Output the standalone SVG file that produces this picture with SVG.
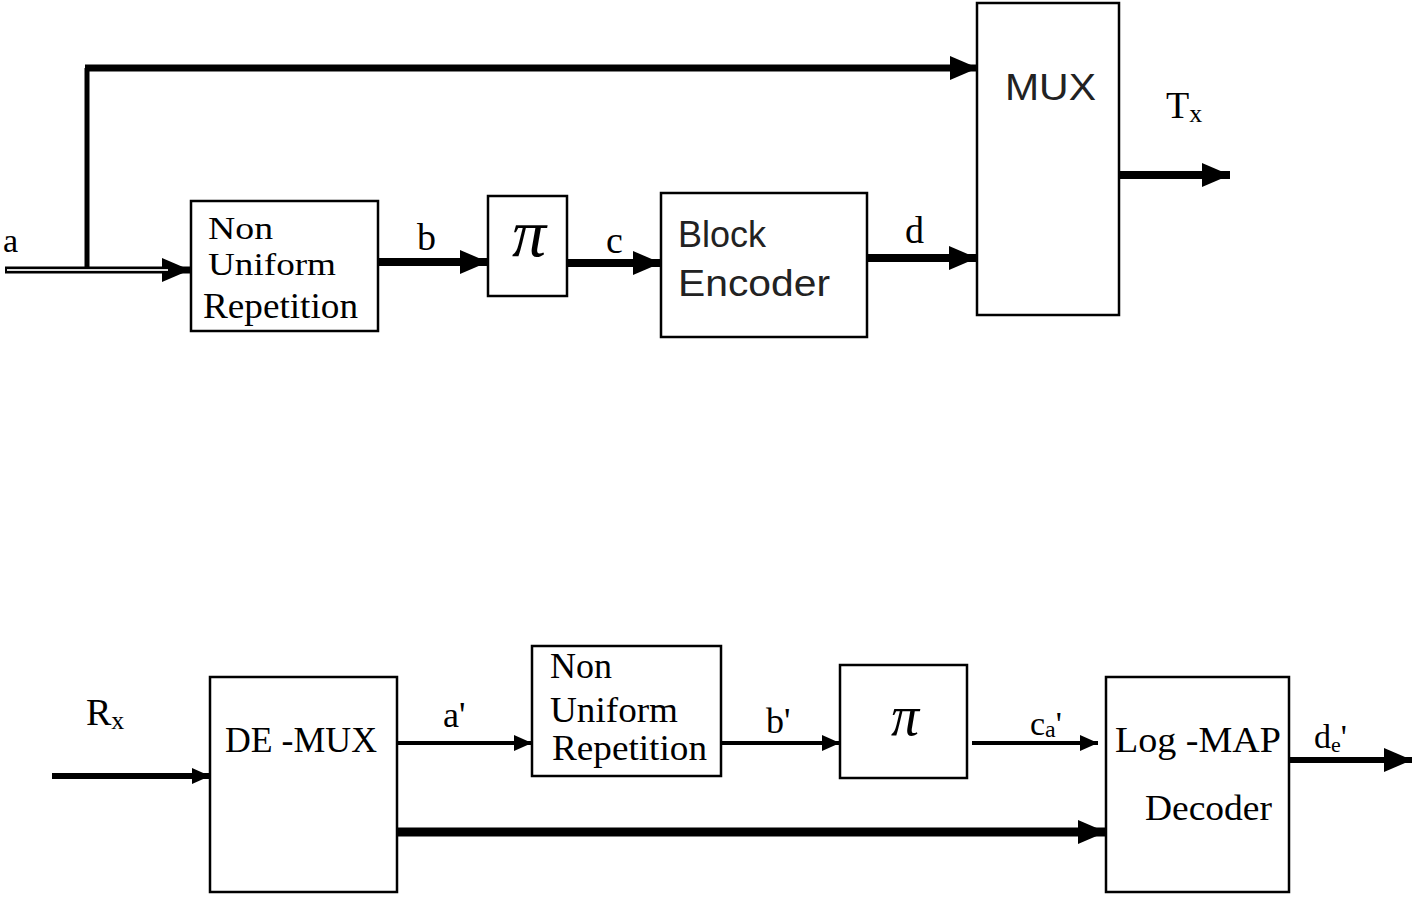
<svg xmlns="http://www.w3.org/2000/svg" width="1416" height="897" viewBox="0 0 1416 897">
<style>
.box{fill:#fff;stroke:#000;stroke-width:2.5}
.serif{font-family:"Liberation Serif","Times New Roman",serif;fill:#000}
.sans{font-family:"Liberation Sans",Arial,sans-serif;fill:#222}
.ln{stroke:#000;fill:none}
</style>
<defs>
<marker id="ah" markerUnits="userSpaceOnUse" viewBox="0 0 28 24" refX="28" refY="12" markerWidth="28" markerHeight="24" orient="auto">
<path d="M0,0 L28,12 L0,24 Z" fill="#000"/>
</marker>
<marker id="ahs" markerUnits="userSpaceOnUse" viewBox="0 0 18 16" refX="18" refY="8" markerWidth="18" markerHeight="16" orient="auto">
<path d="M0,0 L18,8 L0,16 Z" fill="#000"/>
</marker>
</defs>
<rect width="1416" height="897" fill="#fff"/>
<g id="connectors">
<path class="ln" d="M87,272 V68" stroke-width="5"/>
<path class="ln" d="M85,68 H978" stroke-width="7" marker-end="url(#ah)"/>
<path class="ln" d="M5,270 H190" stroke-width="7" marker-end="url(#ah)"/>
<path d="M7,270 H168" stroke="#ddd" stroke-width="2"/>
<path class="ln" d="M378,262 H488" stroke-width="8" marker-end="url(#ah)"/>
<path class="ln" d="M567,263 H661" stroke-width="8" marker-end="url(#ah)"/>
<path class="ln" d="M867,258 H977" stroke-width="8" marker-end="url(#ah)"/>
<path class="ln" d="M1119,175 H1230" stroke-width="8" marker-end="url(#ah)"/>
<path class="ln" d="M52,776 H210" stroke-width="6" marker-end="url(#ahs)"/>
<path class="ln" d="M397,743 H532" stroke-width="4" marker-end="url(#ahs)"/>
<path class="ln" d="M721,743 H840" stroke-width="4" marker-end="url(#ahs)"/>
<path class="ln" d="M972,743 H1098" stroke-width="4" marker-end="url(#ahs)"/>
<path class="ln" d="M1289,760 H1412" stroke-width="6" marker-end="url(#ah)"/>
<path class="ln" d="M397,832 H1106" stroke-width="9" marker-end="url(#ah)"/>
</g>
<g id="labels">
<text class="serif" x="3" y="252" font-size="34">a</text>
<text class="serif" x="417" y="250" font-size="38">b</text>
<text class="serif" x="606" y="253" font-size="38">c</text>
<text class="serif" x="905" y="243" font-size="38">d</text>
<text class="serif" x="1166" y="118" font-size="38">T<tspan font-size="26" dy="4">x</tspan></text>
<text class="serif" x="86" y="725" font-size="38">R<tspan font-size="26" dy="4">x</tspan></text>
<text class="serif" x="443" y="727" font-size="36">a'</text>
<text class="serif" x="766" y="733" font-size="36">b'</text>
<text class="serif" x="1030" y="735" font-size="34">c<tspan font-size="24" dy="2">a</tspan><tspan dy="-2">'</tspan></text>
<text class="serif" x="1314" y="748" font-size="34">d<tspan font-size="22" dy="4">e</tspan><tspan dy="-4">'</tspan></text>
</g>
<g id="nur1">
<rect class="box" x="191" y="201" width="187" height="130"/>
<text class="serif" x="208" y="239" font-size="32" textLength="65" lengthAdjust="spacingAndGlyphs">Non</text>
<text class="serif" x="208" y="275" font-size="32" textLength="128" lengthAdjust="spacingAndGlyphs">Uniform</text>
<text class="serif" x="203" y="318" font-size="35" textLength="155" lengthAdjust="spacingAndGlyphs">Repetition</text>
</g>
<g id="pi1">
<rect class="box" x="488" y="196" width="79" height="100"/>
<text class="serif" x="529" y="256" font-size="68" font-style="italic" text-anchor="middle">π</text>
</g>
<g id="encoder">
<rect class="box" x="661" y="193" width="206" height="144"/>
<text class="sans" x="678" y="247" font-size="36">Block</text>
<text class="sans" x="678" y="296" font-size="36" textLength="152" lengthAdjust="spacingAndGlyphs">Encoder</text>
</g>
<g id="mux">
<rect class="box" x="977" y="3" width="142" height="312"/>
<text class="sans" x="1005" y="100" font-size="36" textLength="91" lengthAdjust="spacingAndGlyphs">MUX</text>
</g>
<g id="demux">
<rect class="box" x="210" y="677" width="187" height="215"/>
<text class="serif" x="225" y="752" font-size="36" textLength="152" lengthAdjust="spacingAndGlyphs">DE -MUX</text>
</g>
<g id="nur2">
<rect class="box" x="532" y="646" width="189" height="130"/>
<text class="serif" x="550" y="678" font-size="36">Non</text>
<text class="serif" x="550" y="722" font-size="36" textLength="128" lengthAdjust="spacingAndGlyphs">Uniform</text>
<text class="serif" x="552" y="760" font-size="36" textLength="155" lengthAdjust="spacingAndGlyphs">Repetition</text>
</g>
<g id="pi2">
<rect class="box" x="840" y="665" width="127" height="113"/>
<text class="serif" x="905" y="735" font-size="56" font-style="italic" text-anchor="middle">π</text>
</g>
<g id="logmap">
<rect class="box" x="1106" y="677" width="183" height="215"/>
<text class="serif" x="1115" y="752" font-size="36" textLength="166" lengthAdjust="spacingAndGlyphs">Log -MAP</text>
<text class="serif" x="1145" y="820" font-size="36" textLength="127" lengthAdjust="spacingAndGlyphs">Decoder</text>
</g>
</svg>
